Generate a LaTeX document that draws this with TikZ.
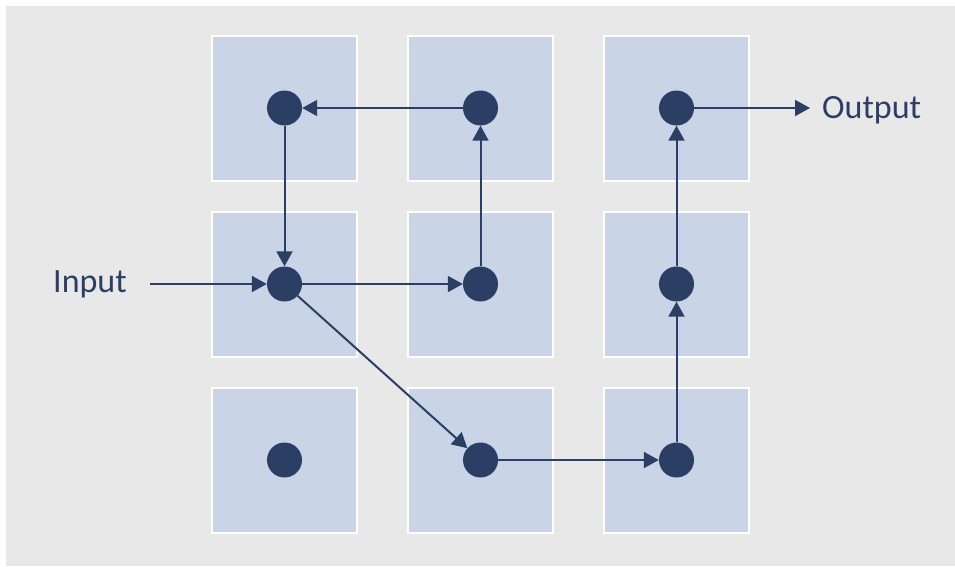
\documentclass[tikz,border=0pt]{standalone}
\usepackage{fontspec}
\setmainfont{Carlito}
\usetikzlibrary{arrows.meta, positioning}
\definecolor{navy}{HTML}{2A3F63}
\definecolor{cell}{HTML}{C9D5E7}
\definecolor{bg}{HTML}{E8E8E8}

\begin{document}
\begin{tikzpicture}[x=1pt, y=-1pt, >={Triangle[length=15pt,width=16pt]},
    dot/.style={circle, fill=navy, minimum size=35pt, inner sep=0pt},
    link/.style={->, draw=navy, line width=2pt},
    lbl/.style={text=navy, font=\fontsize{34}{40}\selectfont, inner sep=0pt}]
\useasboundingbox (0,0) rectangle (955,566);
\fill[bg] (6,6) rectangle (955,566);

% grid of cells, each with a dot
\foreach \i in {0,1,2}
  \foreach \j in {0,1,2}{
    \draw[white, line width=2pt, fill=cell] (212+196*\i,36+176*\j) rectangle ++(145,145);
    \node[dot] (d\i\j) at (284.5+196*\i,108+176*\j) {};
  }

\node[lbl, anchor=base west] (input) at (53,292) {Input};
\node[lbl, anchor=base west] (output) at (822,118) {Output};
\coordinate (in) at (150,284);
\coordinate (out) at (810,108);

\draw[link] (in) -- (d01);
\draw[link] (d10) -- (d00);
\draw[link] (d00) -- (d01);
\draw[link] (d01) -- (d11);
\draw[link] (d11) -- (d10);
\draw[link] (d01) -- (d12);
\draw[link] (d12) -- (d22);
\draw[link] (d22) -- (d21);
\draw[link] (d21) -- (d20);
\draw[link] (d20) -- (out);
\end{tikzpicture}
\end{document}
